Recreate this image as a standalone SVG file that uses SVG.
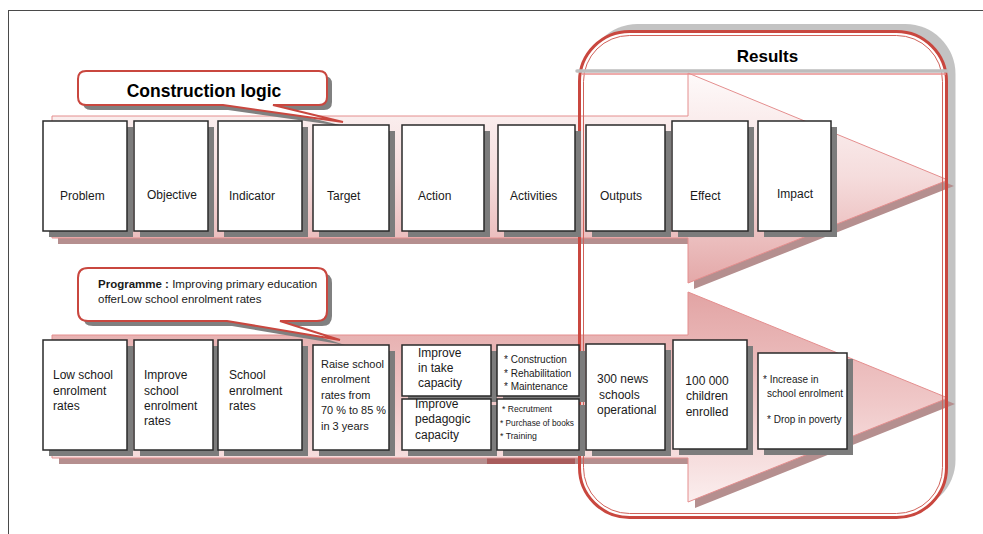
<svg xmlns="http://www.w3.org/2000/svg" width="983" height="534" viewBox="0 0 983 534">
<defs>
<linearGradient id="gTop" x1="0" y1="73" x2="0" y2="283" gradientUnits="userSpaceOnUse">
<stop offset="0" stop-color="#fefafa"/>
<stop offset="0.5" stop-color="#f5dcdc"/>
<stop offset="1" stop-color="#e4a8a8"/>
</linearGradient>
<linearGradient id="gBot" x1="0" y1="292" x2="0" y2="502" gradientUnits="userSpaceOnUse">
<stop offset="0" stop-color="#e2a4a4"/>
<stop offset="0.5" stop-color="#efc6c6"/>
<stop offset="1" stop-color="#fbeeee"/>
</linearGradient>
<style>
.t{font-family:"Liberation Sans",Arial,sans-serif;font-size:12px;fill:#1a1a1a}
.s{font-family:"Liberation Sans",Arial,sans-serif;font-size:10px;fill:#1a1a1a}
.box{fill:#fff;stroke:#2a2a2a;stroke-width:1.5}
.sh{fill:#7c7c7c}
.ash{fill:#b58f8f}
.arr{stroke:#e48e8e;stroke-width:1}
.call{fill:#fff;stroke:#c9473f;stroke-width:2}
.csh{fill:#808080}
</style>
</defs>
<rect width="983" height="534" fill="#fff"/>
<g id="page-border" stroke="#4a4a4a" stroke-width="1" fill="none">
<line x1="8" y1="10.5" x2="983" y2="10.5"/>
<line x1="8.5" y1="10" x2="8.5" y2="534"/>
</g>
<g id="results-back">
<rect x="587.5" y="24" width="368" height="486" rx="50" fill="#c3c3c3"/>
<rect x="579.5" y="31.5" width="367" height="486" rx="50" fill="#fff"/>
</g>
<g id="arrows">
<path class="ash" transform="translate(6,6)" d="M52,116 H688 V73 L948,180 L688,283 V238 H52 Z"/>
<path class="arr" fill="url(#gTop)" d="M52,116 H688 V73 L948,180 L688,283 V238 H52 Z"/>
<path class="ash" transform="translate(7,6)" d="M52,335 H688 V292 L948,398 L688,502 V458 H52 Z"/>
<path class="arr" fill="url(#gBot)" d="M52,335 H688 V292 L948,398 L688,502 V458 H52 Z"/>
<rect x="487" y="458.5" width="88" height="5.5" fill="#a85c5c"/>
</g>
<g id="results" >
<rect x="579.5" y="31.5" width="367" height="486" rx="50" fill="none" stroke="#c9473f" stroke-width="3"/>
<rect x="583.5" y="35.5" width="359" height="478" rx="46" fill="none" stroke="#d0625a" stroke-width="1"/>
<line x1="577" y1="71" x2="947" y2="71" stroke="#bdbdbd" stroke-width="3.5" stroke-linecap="round"/>
<line x1="582" y1="74" x2="946" y2="74" stroke="#e88f8f" stroke-width="1.5"/>
<text x="767.5" y="62" text-anchor="middle" font-family="'Liberation Sans',Arial,sans-serif" font-size="17" font-weight="bold" fill="#000">Results</text>
</g>
<g id="callout-construction">
<path class="csh" transform="translate(5,5)" d="M86,71 H319 Q327,71 327,79 V97 Q327,105 319,105 H273 L343,122 L223,105 H86 Q78,105 78,97 V79 Q78,71 86,71 Z"/>
<path class="call" d="M86,71 H319 Q327,71 327,79 V97 Q327,105 319,105 H273 L343,122 L223,105 H86 Q78,105 78,97 V79 Q78,71 86,71 Z"/>
<text x="204" y="97" text-anchor="middle" font-family="'Liberation Sans',Arial,sans-serif" font-size="17.5" font-weight="bold" fill="#000">Construction logic</text>
</g>
<g id="callout-programme">
<path class="csh" transform="translate(5,5)" d="M88,268 H317 Q327,268 327,278 V311 Q327,321 317,321 H280 L340,340 L227,321 H88 Q78,321 78,311 V278 Q78,268 88,268 Z"/>
<path class="call" d="M88,268 H317 Q327,268 327,278 V311 Q327,321 317,321 H280 L340,340 L227,321 H88 Q78,321 78,311 V278 Q78,268 88,268 Z"/>
<text class="t" style="font-size:11.5px" x="98" y="288"><tspan font-weight="bold">Programme :</tspan> Improving primary education</text>
<text class="t" style="font-size:11.5px" x="98" y="303">offerLow school enrolment rates</text>
</g>
<g id="problem"><rect class="sh" x="49" y="127" width="84" height="110"/><rect class="box" x="43" y="121" width="84" height="110"/><text class="t" x="60" y="200">Problem</text></g>
<g id="objective"><rect class="sh" x="140" y="127" width="74" height="110"/><rect class="box" x="134" y="121" width="74" height="110"/><text class="t" x="147" y="199">Objective</text></g>
<g id="indicator"><rect class="sh" x="224" y="127" width="84" height="110"/><rect class="box" x="218" y="121" width="84" height="110"/><text class="t" x="229" y="200">Indicator</text></g>
<g id="target"><rect class="sh" x="319" y="131" width="76" height="106"/><rect class="box" x="313" y="125" width="76" height="106"/><text class="t" x="327" y="200">Target</text></g>
<g id="action"><rect class="sh" x="408" y="131" width="82" height="106"/><rect class="box" x="402" y="125" width="82" height="106"/><text class="t" x="418" y="200">Action</text></g>
<g id="activities"><rect class="sh" x="504" y="131" width="77" height="106"/><rect class="box" x="498" y="125" width="77" height="106"/><text class="t" x="510" y="200">Activities</text></g>
<g id="outputs"><rect class="sh" x="592" y="131" width="79" height="106"/><rect class="box" x="586" y="125" width="79" height="106"/><text class="t" x="600" y="200">Outputs</text></g>
<g id="effect"><rect class="sh" x="678" y="127" width="76" height="110"/><rect class="box" x="672" y="121" width="76" height="110"/><text class="t" x="690" y="200">Effect</text></g>
<g id="impact"><rect class="sh" x="764" y="127" width="73" height="110"/><rect class="box" x="758" y="121" width="73" height="110"/><text class="t" x="777" y="198">Impact</text></g>
<g id="low-school"><rect class="sh" x="49" y="346" width="84" height="110"/><rect class="box" x="43" y="340" width="84" height="110"/><text class="t" x="53" y="379">Low school</text><text class="t" x="53" y="395">enrolment</text><text class="t" x="53" y="410">rates</text></g>
<g id="improve-school"><rect class="sh" x="140" y="346" width="79" height="110"/><rect class="box" x="134" y="340" width="79" height="110"/><text class="t" x="144" y="379">Improve</text><text class="t" x="144" y="395">school</text><text class="t" x="144" y="410">enrolment</text><text class="t" x="144" y="425">rates</text></g>
<g id="school-enrolment"><rect class="sh" x="224" y="346" width="84" height="110"/><rect class="box" x="218" y="340" width="84" height="110"/><text class="t" x="229" y="379">School</text><text class="t" x="229" y="395">enrolment</text><text class="t" x="229" y="410">rates</text></g>
<g id="raise"><rect class="sh" x="319" y="351" width="76" height="105"/><rect class="box" x="313" y="345" width="76" height="105"/><text class="t" style="font-size:11px" x="321" y="368">Raise school</text><text class="t" style="font-size:11px" x="321" y="383">enrolment</text><text class="t" style="font-size:11px" x="321" y="399">rates from</text><text class="t" style="font-size:11px" x="321" y="414" textLength="65" lengthAdjust="spacingAndGlyphs">70 % to 85 %</text><text class="t" style="font-size:11px" x="321" y="430">in 3 years</text></g>
<g id="intake"><rect class="sh" x="408" y="351" width="89" height="51"/><rect class="box" x="402" y="345" width="89" height="51"/><text class="t" x="418" y="357">Improve</text><text class="t" x="418" y="372">in take</text><text class="t" x="418" y="387">capacity</text></g>
<g id="pedagogic"><rect class="sh" x="408" y="405" width="89" height="51"/><rect class="box" x="402" y="399" width="89" height="51"/><text class="t" x="415" y="408">Improve</text><text class="t" x="415" y="423">pedagogic</text><text class="t" x="415" y="439">capacity</text></g>
<g id="construction"><rect class="sh" x="503" y="351" width="82" height="51"/><rect class="box" x="497" y="345" width="82" height="51"/><text class="s" x="504" y="363">* Construction</text><text class="s" x="504" y="377">* Rehabilitation</text><text class="s" x="504" y="390">* Maintenance</text></g>
<g id="recrutment"><rect class="sh" x="503" y="405" width="82" height="51"/><rect class="box" x="497" y="399" width="82" height="51"/><text class="s" style="font-size:9.5px" x="502" y="412" textLength="50" lengthAdjust="spacingAndGlyphs">* Recrutment</text><text class="s" style="font-size:9.5px" x="500" y="426" textLength="74" lengthAdjust="spacingAndGlyphs">*  Purchase of books</text><text class="s" style="font-size:9.5px" x="500" y="439" textLength="37" lengthAdjust="spacingAndGlyphs">*  Training</text></g>
<g id="schools"><rect class="sh" x="592" y="350" width="79" height="106"/><rect class="box" x="586" y="344" width="79" height="106"/><text class="t" x="597" y="383">300 news</text><text class="t" x="599" y="399">schools</text><text class="t" x="597" y="414">operational</text></g>
<g id="children"><rect class="sh" x="679" y="346" width="74" height="109"/><rect class="box" x="673" y="340" width="74" height="109"/><text class="t" x="707" y="385" text-anchor="middle">100 000</text><text class="t" x="707" y="400" text-anchor="middle">children</text><text class="t" x="707" y="416" text-anchor="middle">enrolled</text></g>
<g id="increase"><rect class="sh" x="764" y="359" width="89" height="96"/><rect class="box" x="758" y="353" width="89" height="96"/><text class="s" x="763" y="383">* Increase in</text><text class="s" x="767" y="397">school enrolment</text><text class="s" x="767" y="423">* Drop in poverty</text></g>
</svg>
